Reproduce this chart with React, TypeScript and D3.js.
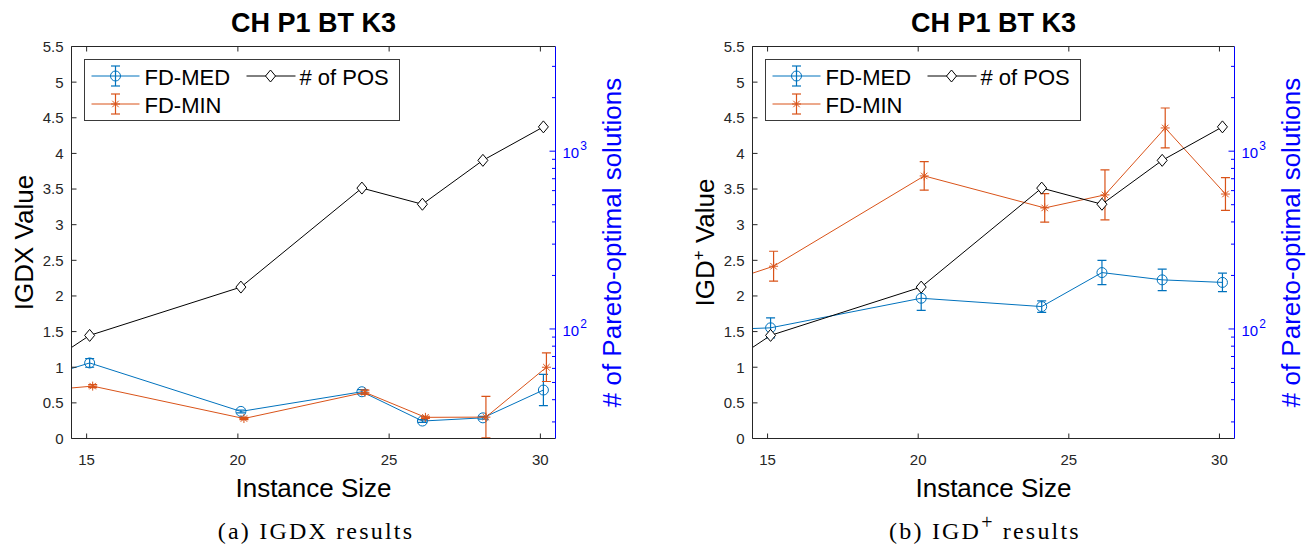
import React from "react";
import * as d3 from "d3";

// instance sizes (the first one sits left of the visible x range and is clipped)
const sizes = [10, 15, 20, 24, 26, 28, 30];
const posCount = [25, 92, 172, 620, 503, 888, 1370];

const igdxMed = [0.41, 1.06, 0.38, 0.656, 0.245, 0.29, 0.68];
const igdxMedErr = [0.02, 0.06, 0.02, 0.03, 0.02, 0.02, 0.22];
const igdxMin = [0.55, 0.735, 0.28, 0.648, 0.297, 0.3, 1.0];
const igdxMinErr = [0.02, 0.02, 0.015, 0.03, 0.015, 0.29, 0.2];

const igdpMed = [1.47, 1.553, 1.968, 1.851, 2.328, 2.226, 2.19];
const igdpMedErr = [0.05, 0.14, 0.17, 0.08, 0.17, 0.15, 0.13];
const igdpMin = [1.72, 2.417, 3.684, 3.235, 3.418, 4.357, 3.43];
const igdpMinErr = [0.2, 0.21, 0.2, 0.2, 0.35, 0.28, 0.23];

// small horizontal shifts matlab script used so markers don't overlap
const medShift = 0.1;
const minShift = 0.2;
const posShift = 0.1;

const xTicks = [15, 20, 25, 30];
const xTickLabels = ["15", "20", "25", "30"];
const yTicks = [0, 0.5, 1, 1.5, 2, 2.5, 3, 3.5, 4, 4.5, 5, 5.5];
const yTickLabels = ["0", "0.5", "1", "1.5", "2", "2.5", "3", "3.5", "4", "4.5", "5", "5.5"];
const logMajor = [100, 1000];
const logMajorExp = ["2", "3"];
const logMinor = [30, 40, 50, 60, 70, 80, 90, 200, 300, 400, 500, 600, 700, 800, 900, 2000, 3000];

const BLUE = "#0072BD";
const ORANGE = "#D95319";
const AX = "#262626";
const RBLUE = "#0000FF";
const SANS = "'Liberation Sans', Arial, Helvetica, sans-serif";
const SERIF = "'Liberation Serif', 'Times New Roman', serif";

const TOP = 46.5;
const BOTTOM = 438.5;

function Star({ cx, cy, color }) {
    const r = 4.5;
    const d = r * 0.72;
    return (
        <g stroke={color} strokeWidth={1}>
            <line x1={cx - r} y1={cy} x2={cx + r} y2={cy} />
            <line x1={cx} y1={cy - r} x2={cx} y2={cy + r} />
            <line x1={cx - d} y1={cy - d} x2={cx + d} y2={cy + d} />
            <line x1={cx - d} y1={cy + d} x2={cx + d} y2={cy - d} />
        </g>
    );
}

function Diamond({ cx, cy }) {
    return (
        <path
            d={`M${cx},${cy - 6}L${cx + 5},${cy}L${cx},${cy + 6}L${cx - 5},${cy}Z`}
            fill="white"
            stroke="black"
            strokeWidth={1}
        />
    );
}

function ErrBar({ x, y1, y2, color }) {
    return (
        <g stroke={color} strokeWidth={1.2}>
            <line x1={x} y1={y1} x2={x} y2={y2} />
            <line x1={x - 4.5} y1={y1} x2={x + 4.5} y2={y1} />
            <line x1={x - 4.5} y1={y2} x2={x + 4.5} y2={y2} />
        </g>
    );
}

function Panel({ x0, x1, med, medErr, mins, minErr, yLabel, caption, captionX, clipId }) {
    const x = d3.scaleLinear().domain([14.5, 30.5]).range([x0, x1]);
    const y = d3.scaleLinear().domain([0, 5.5]).range([BOTTOM, TOP]);
    const yR = d3.scaleLog().domain([24.2, 3880]).range([BOTTOM, TOP]);

    const line = d3.line().x((d) => d[0]).y((d) => d[1]);
    const medPts = sizes.map((s, i) => [x(s + medShift), y(med[i])]);
    const minPts = sizes.map((s, i) => [x(s + minShift), y(mins[i])]);
    const posPts = sizes.map((s, i) => [x(s + posShift), yR(posCount[i])]);

    const cx = (x0 + x1) / 2;
    const lx = x0 + 13; // legend left

    return (
        <g>
            <clipPath id={clipId}>
                <rect x={x0} y={TOP} width={x1 - x0} height={BOTTOM - TOP} />
            </clipPath>

            <text x={cx} y={32} textAnchor="middle" fontFamily={SANS} fontWeight="bold" fontSize={27} fill="black">
                CH P1 BT K3
            </text>

            <g clipPath={`url(#${clipId})`}>
                <path d={line(medPts)} fill="none" stroke={BLUE} strokeWidth={1} />
                {sizes.map((s, i) => (
                    <g key={"m" + i}>
                        <ErrBar x={medPts[i][0]} y1={y(med[i] + medErr[i])} y2={y(med[i] - medErr[i])} color={BLUE} />
                        <circle cx={medPts[i][0]} cy={medPts[i][1]} r={5} fill="none" stroke={BLUE} strokeWidth={1} />
                    </g>
                ))}
                <path d={line(minPts)} fill="none" stroke={ORANGE} strokeWidth={1} />
                {sizes.map((s, i) => (
                    <g key={"n" + i}>
                        <ErrBar x={minPts[i][0]} y1={y(mins[i] + minErr[i])} y2={y(mins[i] - minErr[i])} color={ORANGE} />
                        <Star cx={minPts[i][0]} cy={minPts[i][1]} color={ORANGE} />
                    </g>
                ))}
                <path d={line(posPts)} fill="none" stroke="black" strokeWidth={1} />
                {sizes.map((s, i) => (
                    <Diamond key={"p" + i} cx={posPts[i][0]} cy={posPts[i][1]} />
                ))}
            </g>

            {/* box */}
            <line x1={x0} y1={BOTTOM} x2={x1} y2={BOTTOM} stroke={AX} strokeWidth={1} />
            <line x1={x0} y1={TOP} x2={x1} y2={TOP} stroke={AX} strokeWidth={1} />
            <line x1={x0} y1={TOP} x2={x0} y2={BOTTOM} stroke={AX} strokeWidth={1} />
            <line x1={x1} y1={TOP} x2={x1} y2={BOTTOM} stroke={RBLUE} strokeWidth={1} />

            {xTicks.map((t, i) => (
                <g key={"xt" + i}>
                    <line x1={x(t)} y1={BOTTOM} x2={x(t)} y2={BOTTOM - 5} stroke={AX} />
                    <line x1={x(t)} y1={TOP} x2={x(t)} y2={TOP + 5} stroke={AX} />
                    <text x={x(t)} y={465} textAnchor="middle" fontFamily={SANS} fontSize={15} fill={AX}>
                        {xTickLabels[i]}
                    </text>
                </g>
            ))}
            {yTicks.map((t, i) => (
                <g key={"yt" + i}>
                    <line x1={x0} y1={y(t)} x2={x0 + 5} y2={y(t)} stroke={AX} />
                    <text x={x0 - 8} y={y(t)} dy="0.36em" textAnchor="end" fontFamily={SANS} fontSize={15} fill={AX}>
                        {yTickLabels[i]}
                    </text>
                </g>
            ))}
            {logMinor.map((t, i) => (
                <line key={"lm" + i} x1={x1} y1={yR(t)} x2={x1 - 3.5} y2={yR(t)} stroke={RBLUE} />
            ))}
            {logMajor.map((t, i) => (
                <g key={"lM" + i}>
                    <line x1={x1} y1={yR(t)} x2={x1 - 6} y2={yR(t)} stroke={RBLUE} />
                    <text x={x1 + 7} y={yR(t) + 7} fontFamily={SANS} fontSize={15} fill={RBLUE}>
                        10
                        <tspan dx={1} dy={-8} fontSize={12}>
                            {logMajorExp[i]}
                        </tspan>
                    </text>
                </g>
            ))}

            {/* axis labels */}
            <text x={cx} y={497} textAnchor="middle" fontFamily={SANS} fontSize={26} fill="black">
                Instance Size
            </text>
            <text
                transform={`translate(${x0 - 39},${(TOP + BOTTOM) / 2}) rotate(-90)`}
                textAnchor="middle"
                fontFamily={SANS}
                fontSize={26}
                fill="black"
            >
                {yLabel}
            </text>
            <text
                transform={`translate(${x1 + 65},${(TOP + BOTTOM) / 2}) rotate(-90)`}
                textAnchor="middle"
                fontFamily={SANS}
                fontSize={26}
                fill={RBLUE}
            >
                # of Pareto-optimal solutions
            </text>

            {/* legend */}
            <rect x={lx} y={59.5} width={315} height={61} fill="white" stroke="#3a3a3a" strokeWidth={1} />
            <line x1={lx + 7} y1={76} x2={lx + 55} y2={76} stroke={BLUE} />
            <ErrBar x={lx + 31} y1={66} y2={86} color={BLUE} />
            <circle cx={lx + 31} cy={76} r={5} fill="none" stroke={BLUE} />
            <text x={lx + 60} y={85} fontFamily={SANS} fontSize={22} fill="black">
                FD-MED
            </text>
            <line x1={lx + 7} y1={104} x2={lx + 55} y2={104} stroke={ORANGE} />
            <ErrBar x={lx + 31} y1={94} y2={114} color={ORANGE} />
            <Star cx={lx + 31} cy={104} color={ORANGE} />
            <text x={lx + 60} y={113} fontFamily={SANS} fontSize={22} fill="black">
                FD-MIN
            </text>
            <line x1={lx + 162} y1={76} x2={lx + 211} y2={76} stroke="black" />
            <Diamond cx={lx + 186} cy={76} />
            <text x={lx + 215} y={85} fontFamily={SANS} fontSize={22} fill="black">
                # of POS
            </text>

            {/* caption */}
            <text x={captionX} y={539} textAnchor="middle" fontFamily={SERIF} fontSize={24} letterSpacing={2.2} fill="black">
                {caption}
            </text>
        </g>
    );
}

export default function App() {
    return (
        <svg
            width={1314}
            height={549}
            style={{ position: "absolute", left: 0, top: 0, background: "white" }}
        >
            <rect x={0} y={0} width={1314} height={549} fill="white" />
            <Panel
                x0={71.5}
                x1={555.5}
                med={igdxMed}
                medErr={igdxMedErr}
                mins={igdxMin}
                minErr={igdxMinErr}
                yLabel="IGDX Value"
                caption="(a) IGDX results"
                captionX={316}
                clipId="clipA"
            />
            <Panel
                x0={752.5}
                x1={1234.5}
                med={igdpMed}
                medErr={igdpMedErr}
                mins={igdpMin}
                minErr={igdpMinErr}
                yLabel={
                    <>
                        IGD
                        <tspan dy={-10} fontSize={17}>+</tspan>
                        <tspan dy={10}> Value</tspan>
                    </>
                }
                caption={
                    <>
                        (b) IGD
                        <tspan dy={-10} fontSize={20}>+</tspan>
                        <tspan dy={10}> results</tspan>
                    </>
                }
                captionX={985}
                clipId="clipB"
            />
        </svg>
    );
}
